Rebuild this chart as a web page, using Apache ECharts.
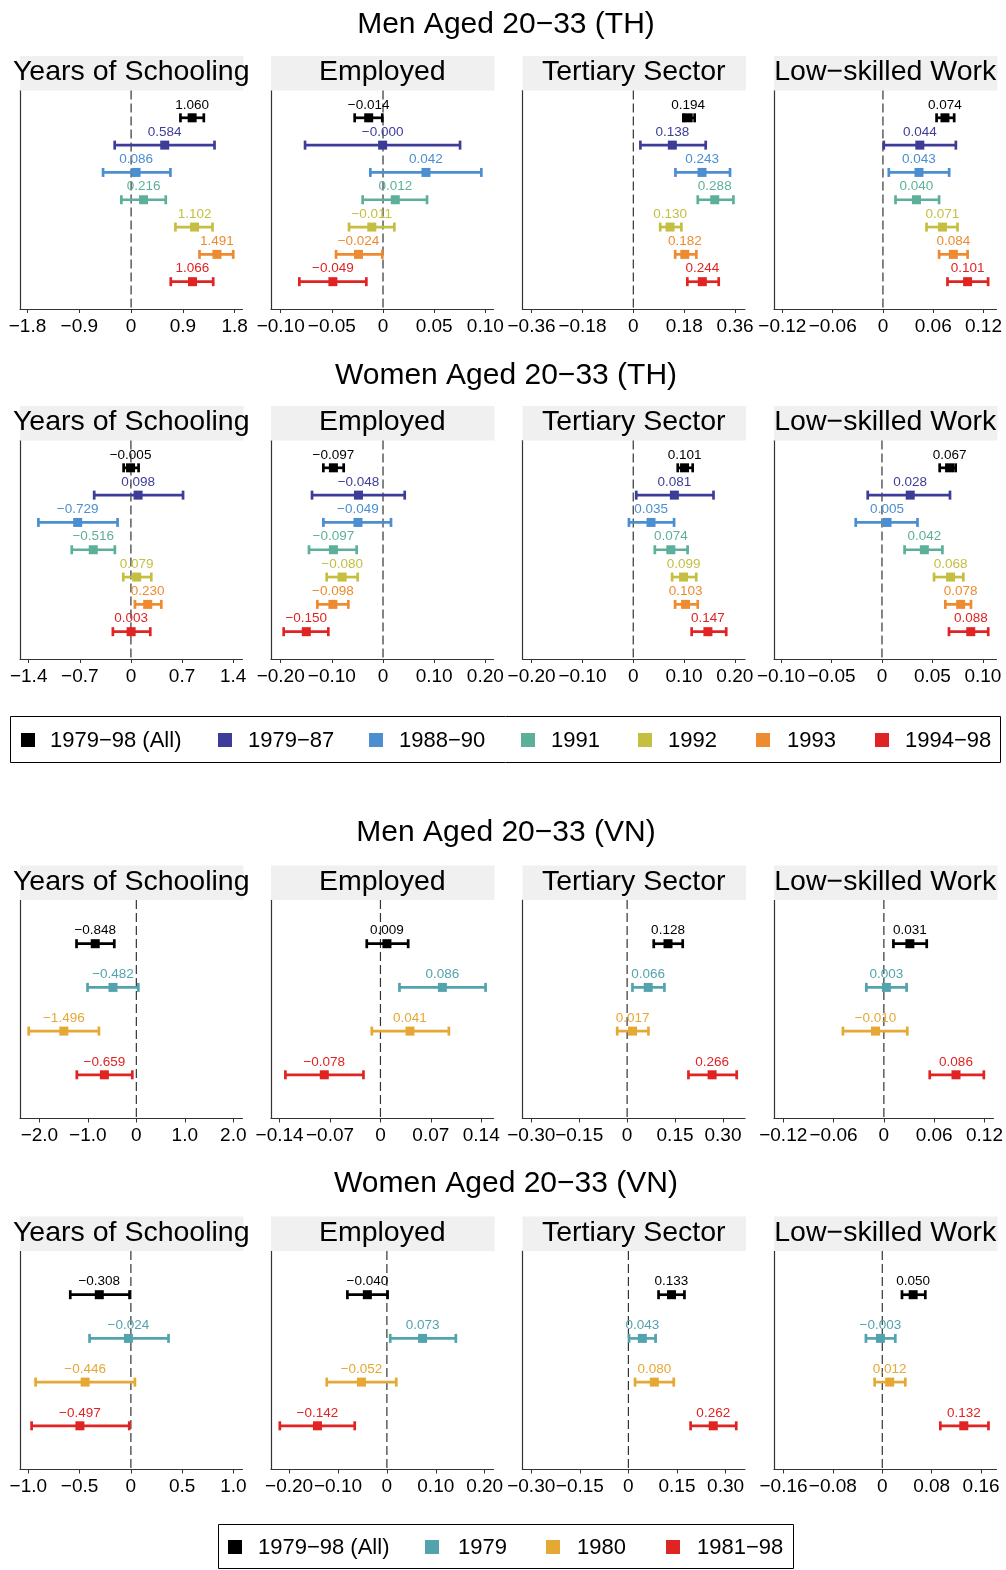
<!DOCTYPE html>
<html><head><meta charset="utf-8">
<script src="https://cdn.jsdelivr.net/npm/echarts@6/dist/echarts.min.js"></script>
<style>html,body{margin:0;padding:0;background:#fff}#c{width:1006px;height:1570px}</style>
</head><body><div id="c"></div>
<script>
// ---------- DATA ----------
const outcomes = ['Years of Schooling', 'Employed', 'Tertiary Sector', 'Low\u2212skilled Work'];
const blockTitles = ['Men Aged 20\u221233 (TH)', 'Women Aged 20\u221233 (TH)', 'Men Aged 20\u221233 (VN)', 'Women Aged 20\u221233 (VN)'];
const thGroups = ['1979\u221298 (All)', '1979\u221287', '1988\u221290', '1991', '1992', '1993', '1994\u221298'];
const thColors = ['#000000', '#3D3D99', '#4B8FD1', '#5CB09A', '#C4BF40', '#EE8B30', '#E02323'];
const vnGroups = ['1979\u221298 (All)', '1979', '1980', '1981\u221298'];
const vnColors = ['#000000', '#53A3AE', '#E6A835', '#E02323'];

// rows: [estimate, ci_low, ci_high]
const menTH_school   = [[1.060,0.857,1.263],[0.584,-0.285,1.449],[0.086,-0.487,0.683],[0.216,-0.169,0.602],[1.102,0.770,1.414],[1.491,1.188,1.774],[1.066,0.689,1.426]];
const menTH_employed = [[-0.014,-0.0277,-0.0007],[-0.0004,-0.0762,0.0753],[0.042,-0.0124,0.0961],[0.012,-0.0199,0.0430],[-0.011,-0.0332,0.0111],[-0.024,-0.0459,-0.0007],[-0.049,-0.0818,-0.0163]];
const menTH_tertiary = [[0.194,0.177,0.217],[0.138,0.025,0.256],[0.243,0.149,0.342],[0.288,0.228,0.354],[0.130,0.095,0.170],[0.182,0.148,0.223],[0.244,0.191,0.302]];
const menTH_lowskill = [[0.074,0.064,0.085],[0.044,0.001,0.087],[0.043,0.007,0.079],[0.040,0.015,0.067],[0.071,0.052,0.089],[0.084,0.067,0.101],[0.101,0.077,0.1255]];

const womenTH_school   = [[-0.005,-0.100,0.105],[0.098,-0.503,0.714],[-0.729,-1.267,-0.183],[-0.516,-0.810,-0.220],[0.079,-0.105,0.279],[0.230,0.055,0.416],[0.003,-0.247,0.265]];
const womenTH_employed = [[-0.097,-0.1166,-0.0769],[-0.048,-0.1388,0.0424],[-0.049,-0.1166,0.0156],[-0.097,-0.1447,-0.0515],[-0.080,-0.1101,-0.0495],[-0.098,-0.1284,-0.0678],[-0.150,-0.1942,-0.1069]];
const womenTH_tertiary = [[0.101,0.0876,0.117],[0.081,0.0059,0.158],[0.035,-0.0085,0.0804],[0.074,0.0425,0.107],[0.099,0.0765,0.124],[0.103,0.0824,0.127],[0.147,0.115,0.183]];
const womenTH_lowskill = [[0.067,0.0572,0.073],[0.028,-0.0141,0.0674],[0.005,-0.026,0.0352],[0.042,0.0224,0.0599],[0.068,0.0516,0.0806],[0.078,0.0628,0.0882],[0.088,0.0664,0.1053]];

const menVN_school   = [[-0.848,-1.234,-0.455],[-0.482,-1.007,0.041],[-1.496,-2.220,-0.772],[-0.659,-1.228,-0.083]];
const menVN_employed = [[0.009,-0.019,0.0385],[0.086,0.0264,0.146],[0.041,-0.012,0.095],[-0.078,-0.132,-0.0236]];
const menVN_tertiary = [[0.128,0.0833,0.174],[0.066,0.0167,0.1167],[0.017,-0.031,0.0667],[0.266,0.192,0.343]];
const menVN_lowskill = [[0.031,0.0114,0.0511],[0.003,-0.0209,0.0271],[-0.010,-0.0488,0.0279],[0.086,0.0547,0.1192]];

const womenVN_school   = [[-0.308,-0.591,-0.013],[-0.024,-0.403,0.367],[-0.446,-0.929,0.039],[-0.497,-0.968,-0.016]];
const womenVN_employed = [[-0.040,-0.0808,0.0014],[0.073,0.0068,0.141],[-0.052,-0.123,0.0192],[-0.142,-0.219,-0.0658]];
const womenVN_tertiary = [[0.133,0.0931,0.173],[0.043,0.002,0.0839],[0.080,0.0205,0.140],[0.262,0.192,0.333]];
const womenVN_lowskill = [[0.050,0.0319,0.0697],[-0.003,-0.0265,0.0211],[0.012,-0.0124,0.0373],[0.132,0.094,0.172]];

// axis tick labels per panel
const menTH_ticks   = [[-1.8,-0.9,0,0.9,1.8],[-0.10,-0.05,0,0.05,0.10],[-0.36,-0.18,0,0.18,0.36],[-0.12,-0.06,0,0.06,0.12]];
const womenTH_ticks = [[-1.4,-0.7,0,0.7,1.4],[-0.20,-0.10,0,0.10,0.20],[-0.20,-0.10,0,0.10,0.20],[-0.10,-0.05,0,0.05,0.10]];
const menVN_ticks   = [[-2.0,-1.0,0,1.0,2.0],[-0.14,-0.07,0,0.07,0.14],[-0.30,-0.15,0,0.15,0.30],[-0.12,-0.06,0,0.06,0.12]];
const womenVN_ticks = [[-1.0,-0.5,0,0.5,1.0],[-0.20,-0.10,0,0.10,0.20],[-0.30,-0.15,0,0.15,0.30],[-0.16,-0.08,0,0.08,0.16]];
const tickDecimals = [1, 2, 2, 2];

// axis extents per panel
const menTH_range   = [[-1.93,1.935],[-0.1095,0.108],[-0.392,0.395],[-0.130,0.1355]];
const womenTH_range = [[-1.519,1.528],[-0.219,0.216],[-0.218,0.220],[-0.107,0.1135]];
const menVN_range   = [[-2.40,2.19],[-0.152,0.157],[-0.3275,0.369],[-0.131,0.1306]];
const womenVN_range = [[-1.081,1.088],[-0.237,0.218],[-0.327,0.360],[-0.1754,0.185]];

// ---------- LAYOUT ----------
const FONT = '"Liberation Sans", Arial, Helvetica, sans-serif';
const colLefts = [20, 271, 522.5, 774];
const colWidth = 222.5;
const rowTops = [90.5, 440.5, 900, 1251];
const rowHeight = 218.5;
const stripH = 34.5;
const titleY = [22, 373, 830, 1181];

const blocks = [
  {data:[menTH_school,menTH_employed,menTH_tertiary,menTH_lowskill], ticks:menTH_ticks, range:menTH_range, colors:thColors, n:7},
  {data:[womenTH_school,womenTH_employed,womenTH_tertiary,womenTH_lowskill], ticks:womenTH_ticks, range:womenTH_range, colors:thColors, n:7},
  {data:[menVN_school,menVN_employed,menVN_tertiary,menVN_lowskill], ticks:menVN_ticks, range:menVN_range, colors:vnColors, n:4},
  {data:[womenVN_school,womenVN_employed,womenVN_tertiary,womenVN_lowskill], ticks:womenVN_ticks, range:womenVN_range, colors:vnColors, n:4}
];

function fmtNum(v, d) {
  if (Math.abs(v) < 1e-12) return '0';
  return v.toFixed(d).replace('-', '\u2212');
}

const grids = [], xAxes = [], yAxes = [], series = [], graphics = [];
let gi = 0;
blocks.forEach((b, r) => {
  graphics.push({type:'text', x:506, y:titleY[r]+3, style:{text:blockTitles[r], font:'30px ' + FONT, fill:'#000', align:'center', verticalAlign:'middle'}, z:10});
  for (let c = 0; c < 4; c++) {
    const left = colLefts[c], top = rowTops[r];
    graphics.push({type:'rect', shape:{x:left, y:top-stripH, width:colWidth+1, height:stripH}, style:{fill:'#F0F0F0'}, z:1});
    graphics.push({type:'text', x:left+colWidth/2, y:top-stripH/2-1, style:{text:outcomes[c], font:'28.5px ' + FONT, fill:'#000', align:'center', verticalAlign:'middle'}, z:10});
    grids.push({left:left, top:top, width:colWidth, height:rowHeight, containLabel:false});
    const dec = tickDecimals[c];
    xAxes.push({
      gridIndex:gi, type:'value', min:b.range[c][0], max:b.range[c][1],
      axisLine:{show:true, onZero:false, lineStyle:{color:'#333', width:1.2}},
      axisTick:{show:true, length:4, customValues:b.ticks[c], lineStyle:{color:'#333', width:1}},
      axisLabel:{customValues:b.ticks[c], formatter:(v)=>fmtNum(v, dec), fontSize:19, fontFamily:FONT, color:'#000', margin:8},
      splitLine:{show:false}
    });
    yAxes.push({
      gridIndex:gi, type:'value', min:0, max:b.n+1, inverse:true,
      axisLine:{show:true, onZero:false, lineStyle:{color:'#333', width:1.2}},
      axisTick:{show:false}, axisLabel:{show:false}, splitLine:{show:false}
    });
    // zero reference line
    series.push({type:'line', xAxisIndex:gi, yAxisIndex:gi, data:[[0,0],[0,b.n+1]], symbol:'none', silent:true,
      lineStyle:{color:'#333', width:1.2, type:[9,4]}, z:1});
    const colors = b.colors;
    series.push({
      type:'custom', xAxisIndex:gi, yAxisIndex:gi, clip:false, z:3,
      data:b.data[c].map((row, k) => [row[1], row[2], row[0], k+1, k]),
      renderItem:(params, api) => {
        const y = api.value(3);
        const lo = api.coord([api.value(0), y]);
        const hi = api.coord([api.value(1), y]);
        const pt = api.coord([api.value(2), y]);
        const col = colors[api.value(4)];
        const lw = 2.7, ch = 4.5, ps = 9;
        return {type:'group', children:[
          {type:'line', shape:{x1:lo[0], y1:lo[1], x2:hi[0], y2:hi[1]}, style:{stroke:col, lineWidth:lw}},
          {type:'line', shape:{x1:lo[0], y1:lo[1]-ch, x2:lo[0], y2:lo[1]+ch}, style:{stroke:col, lineWidth:lw}},
          {type:'line', shape:{x1:hi[0], y1:hi[1]-ch, x2:hi[0], y2:hi[1]+ch}, style:{stroke:col, lineWidth:lw}},
          {type:'rect', shape:{x:pt[0]-ps/2, y:pt[1]-ps/2, width:ps, height:ps}, style:{fill:col}},
          {type:'text', style:{text:api.value(2).toFixed(3).replace('-', '\u2212'),
            x:pt[0], y:pt[1]-13, align:'center', verticalAlign:'middle', fill:col, font:'13.5px ' + FONT}}
        ]};
      }
    });
    gi++;
  }
});

// legends
function legend(groups, colors, box, sqX, txX, cy) {
  graphics.push({type:'rect', shape:box, style:{fill:'none', stroke:'#000', lineWidth:1}, z:5});
  groups.forEach((g, i) => {
    graphics.push({type:'rect', shape:{x:sqX[i]-7, y:cy-7, width:14, height:14}, style:{fill:colors[i]}, z:6});
    graphics.push({type:'text', x:txX[i], y:cy+1, style:{text:g, font:'22px ' + FONT, fill:'#000', verticalAlign:'middle'}, z:6});
  });
}
legend(thGroups, thColors, {x:10.5, y:716.5, width:990, height:46}, [28,225,376,528,645,763,882], [50,248,399,551,668,787,905], 740);
legend(vnGroups, vnColors, {x:218.5, y:1524.5, width:575, height:44}, [235,432,553,673], [258,458,577,697], 1547);

const chart = echarts.init(document.getElementById('c'), null, {renderer:'canvas'});
chart.setOption({
  animation:false,
  backgroundColor:'#fff',
  grid:grids, xAxis:xAxes, yAxis:yAxes, series:series, graphic:graphics
});
</script></body></html>
